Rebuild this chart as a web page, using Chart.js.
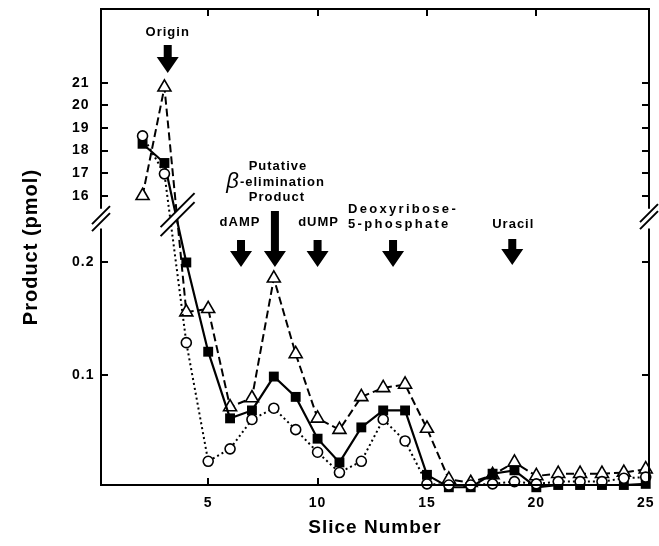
<!DOCTYPE html>
<html>
<head>
<meta charset="utf-8">
<script src="https://cdn.jsdelivr.net/npm/chart.js@4.4.0/dist/chart.umd.min.js"></script>
<style>
    html, body { margin: 0; padding: 0; background: #fff; }
    canvas { display: block; }
</style>
</head>
<body>
<canvas id="chart" width="659" height="546"></canvas>
<script>
/**
 * Slices
 */
const slices = [2, 3, 4, 5, 6, 7, 8, 9, 10, 11, 12, 13, 14, 15, 16, 17, 18, 19, 20, 21, 22, 23, 24, 25];

/**
 * Open triangles (dashed)
 */
const triangles = [16.0, 20.8, 0.156, 0.159, 0.072, 0.080, 0.186, 0.119, 0.062, 0.052, 0.081, 0.089,
    0.092, 0.053, 0.008, 0.005, 0.012, 0.023, 0.011, 0.013, 0.013, 0.013, 0.014, 0.017];

/**
 * Filled squares (solid)
 */
const squares = [18.3, 17.45, 0.200, 0.121, 0.062, 0.069, 0.099, 0.081, 0.044, 0.023, 0.054, 0.069,
    0.069, 0.012, 0.001, 0.001, 0.013, 0.016, 0.001, 0.003, 0.003, 0.003, 0.003, 0.004];

/**
 * Open circles (dotted)
 */
const circles = [18.65, 16.97, 0.129, 0.024, 0.035, 0.061, 0.071, 0.052, 0.032, 0.014, 0.024, 0.061,
    0.042, 0.004, 0.003, 0.003, 0.004, 0.006, 0.004, 0.006, 0.006, 0.006, 0.009, 0.010];

/**
 * Ticks
 */
const xTicks = [5, 10, 15, 20, 25];
const yTicks = [0.1, 0.2, 16, 17, 18, 19, 20, 21];

/**
 * Axis break (lower part / upper part)
 */
const LOW = { min: 0.003, max: 0.23, frac: 0.5388 };
const HIGH = { min: 15.43, max: 24.26, frac: 0.5807 };

/**
 * Broken linear scale
 */
class BrokenScale extends Chart.LinearScale {
    getPixelForValue(value) {
        if (value === null || isNaN(value)) return NaN;
        let f;
        if (value <= LOW.max) {
            f = (value - LOW.min) / (LOW.max - LOW.min) * LOW.frac;
        } else {
            f = HIGH.frac + (value - HIGH.min) / (HIGH.max - HIGH.min) * (1 - HIGH.frac);
        }
        return this.getPixelForDecimal(f);
    }

    getValueForPixel(pixel) {
        const f = this.getDecimalForPixel(pixel);
        if (f <= LOW.frac) return LOW.min + f / LOW.frac * (LOW.max - LOW.min);
        return HIGH.min + (f - HIGH.frac) / (1 - HIGH.frac) * (HIGH.max - HIGH.min);
    }
}
BrokenScale.id = 'broken';
BrokenScale.defaults = Chart.LinearScale.defaults;
Chart.register(BrokenScale);

const FONT = '"Liberation Sans", Arial, sans-serif';

/**
 * Points
 */
const points = (values) => slices.map((s, i) => ({ x: s, y: values[i] }));

/**
 * Fixed axis size, no label overflow padding
 */
const fixSize = (key, size) => (axis) => {
    axis[key] = size;
    axis.paddingLeft = axis.paddingRight = axis.paddingTop = axis.paddingBottom = 0;
};

/**
 * Double slash
 */
function slash(ctx, cx, cy, h, d) {
    ctx.save();
    ctx.fillStyle = '#fff';
    ctx.beginPath();
    ctx.moveTo(cx - h, cy + h - d / 2);
    ctx.lineTo(cx + h, cy - h - d / 2);
    ctx.lineTo(cx + h, cy - h + d / 2);
    ctx.lineTo(cx - h, cy + h + d / 2);
    ctx.closePath();
    ctx.fill();
    ctx.strokeStyle = '#000';
    ctx.lineWidth = 2;
    ctx.beginPath();
    ctx.moveTo(cx - h, cy + h - d / 2);
    ctx.lineTo(cx + h, cy - h - d / 2);
    ctx.moveTo(cx - h, cy + h + d / 2);
    ctx.lineTo(cx + h, cy - h + d / 2);
    ctx.stroke();
    ctx.restore();
}

/**
 * Arrow
 */
function arrow(ctx, x, top, bottom) {
    const headH = 16, headW = 11, shaftW = 4;
    ctx.beginPath();
    ctx.moveTo(x - shaftW, top);
    ctx.lineTo(x + shaftW, top);
    ctx.lineTo(x + shaftW, bottom - headH);
    ctx.lineTo(x + headW, bottom - headH);
    ctx.lineTo(x, bottom);
    ctx.lineTo(x - headW, bottom - headH);
    ctx.lineTo(x - shaftW, bottom - headH);
    ctx.closePath();
    ctx.fill();
}

/**
 * Frame, breaks and markers
 */
const decorations = {
    id: 'decorations',
    beforeDraw(chart) {
        chart.ctx.letterSpacing = '1px';
    },
    afterDatasetsDraw(chart) {
        const { ctx, chartArea: a, scales: { x, y } } = chart;
        const gapTop = y.getPixelForValue(HIGH.min);
        const gapBottom = y.getPixelForValue(LOW.max);
        const mid = (gapTop + gapBottom) / 2;

        ctx.save();

        /**
         * Frame
         */
        ctx.strokeStyle = '#000';
        ctx.lineWidth = 2;
        ctx.beginPath();
        ctx.moveTo(a.left, gapTop);
        ctx.lineTo(a.left, a.top);
        ctx.lineTo(a.right, a.top);
        ctx.lineTo(a.right, gapTop);
        ctx.moveTo(a.left, gapBottom);
        ctx.lineTo(a.left, a.bottom);
        ctx.lineTo(a.right, a.bottom);
        ctx.lineTo(a.right, gapBottom);
        ctx.stroke();

        /**
         * Breaks
         */
        slash(ctx, a.left, mid, 9, 7);
        slash(ctx, a.right, mid - 2, 9, 7);
        slash(ctx, x.getPixelForValue(3.6), mid - 4, 17, 9);

        /**
         * Arrows
         */
        ctx.fillStyle = '#000';
        const marks = [
            { slice: 3.15, top: 45, bottom: 73 },
            { slice: 6.5, top: 240, bottom: 267 },
            { slice: 8.05, top: 211, bottom: 267 },
            { slice: 10.0, top: 240, bottom: 267 },
            { slice: 13.45, top: 240, bottom: 267 },
            { slice: 18.9, top: 239, bottom: 265 }
        ];
        const px = marks.map(m => x.getPixelForValue(m.slice));
        marks.forEach((m, i) => arrow(ctx, px[i], m.top, m.bottom));

        /**
         * Labels
         */
        ctx.font = 'bold 13px ' + FONT;
        ctx.textAlign = 'center';
        ctx.textBaseline = 'middle';
        ctx.fillText('Origin', px[0], 32);
        ctx.fillText('dAMP', px[1] - 1, 222);
        ctx.fillText('Putative', px[2] + 3, 166);
        ctx.fillText('Product', px[2] + 2, 197);
        ctx.fillText('dUMP', px[3] + 1, 222);
        ctx.fillText('Uracil', px[5] + 1, 224);
        ctx.textAlign = 'left';
        ctx.fillText('-elimination', px[2] - 35, 182);
        ctx.letterSpacing = '2.3px';
        ctx.fillText('Deoxyribose-', px[4] - 45, 209);
        ctx.fillText('5-phosphate', px[4] - 45, 224);
        ctx.textAlign = 'right';
        ctx.font = 'italic 22px ' + FONT;
        ctx.letterSpacing = '0px';
        ctx.fillText('\u03B2', px[2] - 36, 182);

        ctx.restore();
    }
};

/**
 * Shared axis pieces
 */
const tickGrid = {
    display: true,
    drawOnChartArea: false,
    drawTicks: true,
    tickLength: -7,
    color: '#000',
    lineWidth: 2
};

new Chart(document.getElementById('chart'), {
    type: 'line',
    data: {
        datasets: [
            {
                label: 'Triangles',
                data: points(triangles),
                borderColor: '#000',
                borderWidth: 2,
                borderDash: [8, 4],
                pointStyle: 'triangle',
                pointRadius: 7.5,
                pointBorderWidth: 1.6,
                pointBackgroundColor: '#fff',
                pointBorderColor: '#000',
                clip: false,
                order: 3
            },
            {
                label: 'Squares',
                data: points(squares),
                borderColor: '#000',
                borderWidth: 2.2,
                pointStyle: 'rect',
                pointRadius: 7,
                pointBorderWidth: 0,
                pointBackgroundColor: '#000',
                pointBorderColor: '#000',
                clip: false,
                order: 2
            },
            {
                label: 'Circles',
                data: points(circles),
                borderColor: '#000',
                borderWidth: 2,
                borderDash: [2, 3],
                pointStyle: 'circle',
                pointRadius: 5,
                pointBorderWidth: 1.6,
                pointBackgroundColor: '#fff',
                pointBorderColor: '#000',
                clip: false,
                order: 1
            }
        ]
    },
    options: {
        responsive: false,
        animation: false,
        events: [],
        layout: { padding: { left: 72, right: 0, top: 0, bottom: 0 } },
        plugins: {
            legend: { display: false },
            tooltip: { enabled: false }
        },
        scales: {
            x: {
                type: 'linear',
                position: 'bottom',
                min: 0.1,
                max: 25.15,
                afterBuildTicks: (axis) => { axis.ticks = xTicks.map(v => ({ value: v })); },
                afterFit: fixSize('height', 61),
                grid: tickGrid,
                border: { display: false },
                ticks: {
                    color: '#000',
                    padding: 17,
                    maxRotation: 0,
                    font: { family: FONT, size: 14, weight: 'bold' }
                },
                title: {
                    display: true,
                    text: 'Slice Number',
                    color: '#000',
                    padding: { top: 0, bottom: 7 },
                    font: { family: FONT, size: 19, weight: 'bold' }
                }
            },
            xTop: {
                type: 'linear',
                position: 'top',
                min: 0.1,
                max: 25.15,
                afterBuildTicks: (axis) => { axis.ticks = xTicks.slice(0, 4).map(v => ({ value: v })); },
                afterFit: fixSize('height', 8),
                grid: tickGrid,
                border: { display: false },
                ticks: { display: false }
            },
            y: {
                type: 'broken',
                position: 'left',
                min: LOW.min,
                max: HIGH.max,
                afterBuildTicks: (axis) => { axis.ticks = yTicks.map(v => ({ value: v })); },
                afterFit: fixSize('width', 29),
                grid: tickGrid,
                border: { display: false },
                ticks: {
                    color: '#000',
                    crossAlign: 'far',
                    font: { family: FONT, size: 14, weight: 'bold' },
                    callback: (v) => v < 1 ? v.toFixed(1) : String(v)
                },
                title: {
                    display: true,
                    text: 'Product (pmol)',
                    color: '#000',
                    padding: { top: -53, bottom: 0 },
                    font: { family: FONT, size: 20, weight: 'bold' }
                }
            },
            yRight: {
                type: 'broken',
                position: 'right',
                min: LOW.min,
                max: HIGH.max,
                afterBuildTicks: (axis) => { axis.ticks = yTicks.map(v => ({ value: v })); },
                afterFit: fixSize('width', 10),
                grid: tickGrid,
                border: { display: false },
                ticks: { display: false }
            }
        }
    },
    plugins: [decorations]
});
</script>
</body>
</html>
